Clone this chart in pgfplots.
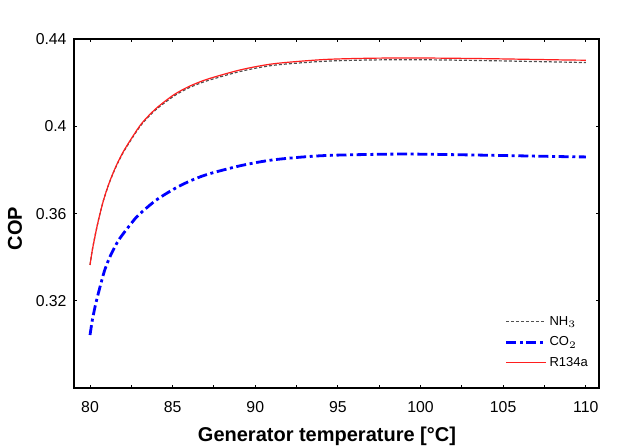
\documentclass[border=0pt]{standalone}
\usepackage{fontspec}
\setmainfont{Liberation Sans}
\usepackage{pgfplots}
\pgfplotsset{compat=1.18}
\definecolor{nhgray}{RGB}{80,80,80}
\definecolor{cob}{RGB}{0,0,255}
\definecolor{rred}{RGB}{255,30,30}
\begin{document}
\begin{tikzpicture}
\path[use as bounding box] (-37pt,-29.35pt) rectangle (283pt,194.15pt);
\begin{axis}[
  scale only axis, width=262.65pt, height=174.65pt,
  xmin=79.03, xmax=110.82, ymin=0.28, ymax=0.44,
  xtick={80,85,...,110}, minor x tick num=1,
  ytick={0.32,0.36,0.4,0.44}, yticklabels={0.32,0.36,0.4,0.44},
  tick align=inside, major tick length=1.7pt, minor tick length=1.7pt,
  axis line style={line width=1pt},
  every tick/.style={line width=0.5pt, black},
  /pgf/number format/assume math mode=true,
  tick label style={font=\fontsize{7.9}{9}\selectfont},
  xticklabel style={yshift=-2.9pt},
  yticklabel style={xshift=-0.2pt},
  xlabel={\bfseries Generator temperature [°C]},
  ylabel={\bfseries COP},
  label style={font=\fontsize{11.1}{13}\selectfont},
  every axis x label/.style={at={(rel axis cs:0.4816,-0.1366)}, anchor=center},
  every axis y label/.style={at={(rel axis cs:-0.1123,0.458)}, anchor=center, rotate=90},
  legend style={draw=none, fill=none, inner sep=0pt, font=\fontsize{6.5}{7}\selectfont,
    at={(rel axis cs:0.8193,0.2103)}, anchor=north west, row sep=4pt,
    nodes={inner xsep=1pt, inner ysep=0pt, text height=5pt, text depth=1.3pt}},
  legend cell align=left,
  legend image code/.code={\draw[#1] (0pt,0pt) -- (20pt,0pt);},
]
\addplot[draw=nhgray, color=nhgray, line width=0.6pt, dash pattern=on 1.5pt off 1pt, smooth, tension=0.45] coordinates {
(80.00,0.3365) (80.14,0.3434) (80.35,0.3515) (80.54,0.3580) (80.81,0.3660)
(81.15,0.3738) (81.56,0.3813) (82.06,0.3887) (83.07,0.4004) (84.00,0.4077)
(85.08,0.4139) (86.00,0.4177) (87.10,0.4209) (89.12,0.4252) (91.14,0.4280)
(94.16,0.4298) (97.0,0.4304) (100.0,0.4305) (104.0,0.4301) (108.8,0.4294) (110.0,0.4292)
};
\addlegendentry{NH$_3$}
\addplot[draw=cob, color=cob, line width=1.4pt, dash pattern=on 5pt off 1.8pt on 1.5pt off 1.8pt, smooth, tension=0.45] coordinates {
(80.00,0.3044) (80.14,0.3113) (80.35,0.3189) (80.61,0.3266) (80.89,0.3342)
(81.25,0.3410) (81.76,0.3482) (82.66,0.3571) (83.07,0.3603) (84.00,0.3662)
(85.08,0.3713) (86.00,0.3748) (87.10,0.3780) (89.12,0.3820) (91.14,0.3847)
(94.16,0.3866) (98.77,0.3873) (103.0,0.3869) (108.8,0.3861) (110.0,0.3860)
};
\addlegendentry{CO$_2$}
\addplot[draw=rred, color=rred, line width=0.6pt, smooth, tension=0.45] coordinates {
(80.00,0.3365) (80.14,0.3434) (80.35,0.3515) (80.54,0.3580) (80.81,0.3660)
(81.15,0.3739) (81.56,0.3815) (82.06,0.3890) (83.07,0.4008) (84.00,0.4082)
(85.08,0.4145) (86.00,0.4183) (87.10,0.4216) (89.12,0.4259) (91.14,0.4287)
(94.16,0.4306) (97.0,0.4312) (100.0,0.4313) (104.0,0.4310) (108.8,0.4304) (110.0,0.4303)
};
\addlegendentry{R134a}
\end{axis}
\end{tikzpicture}
\end{document}
